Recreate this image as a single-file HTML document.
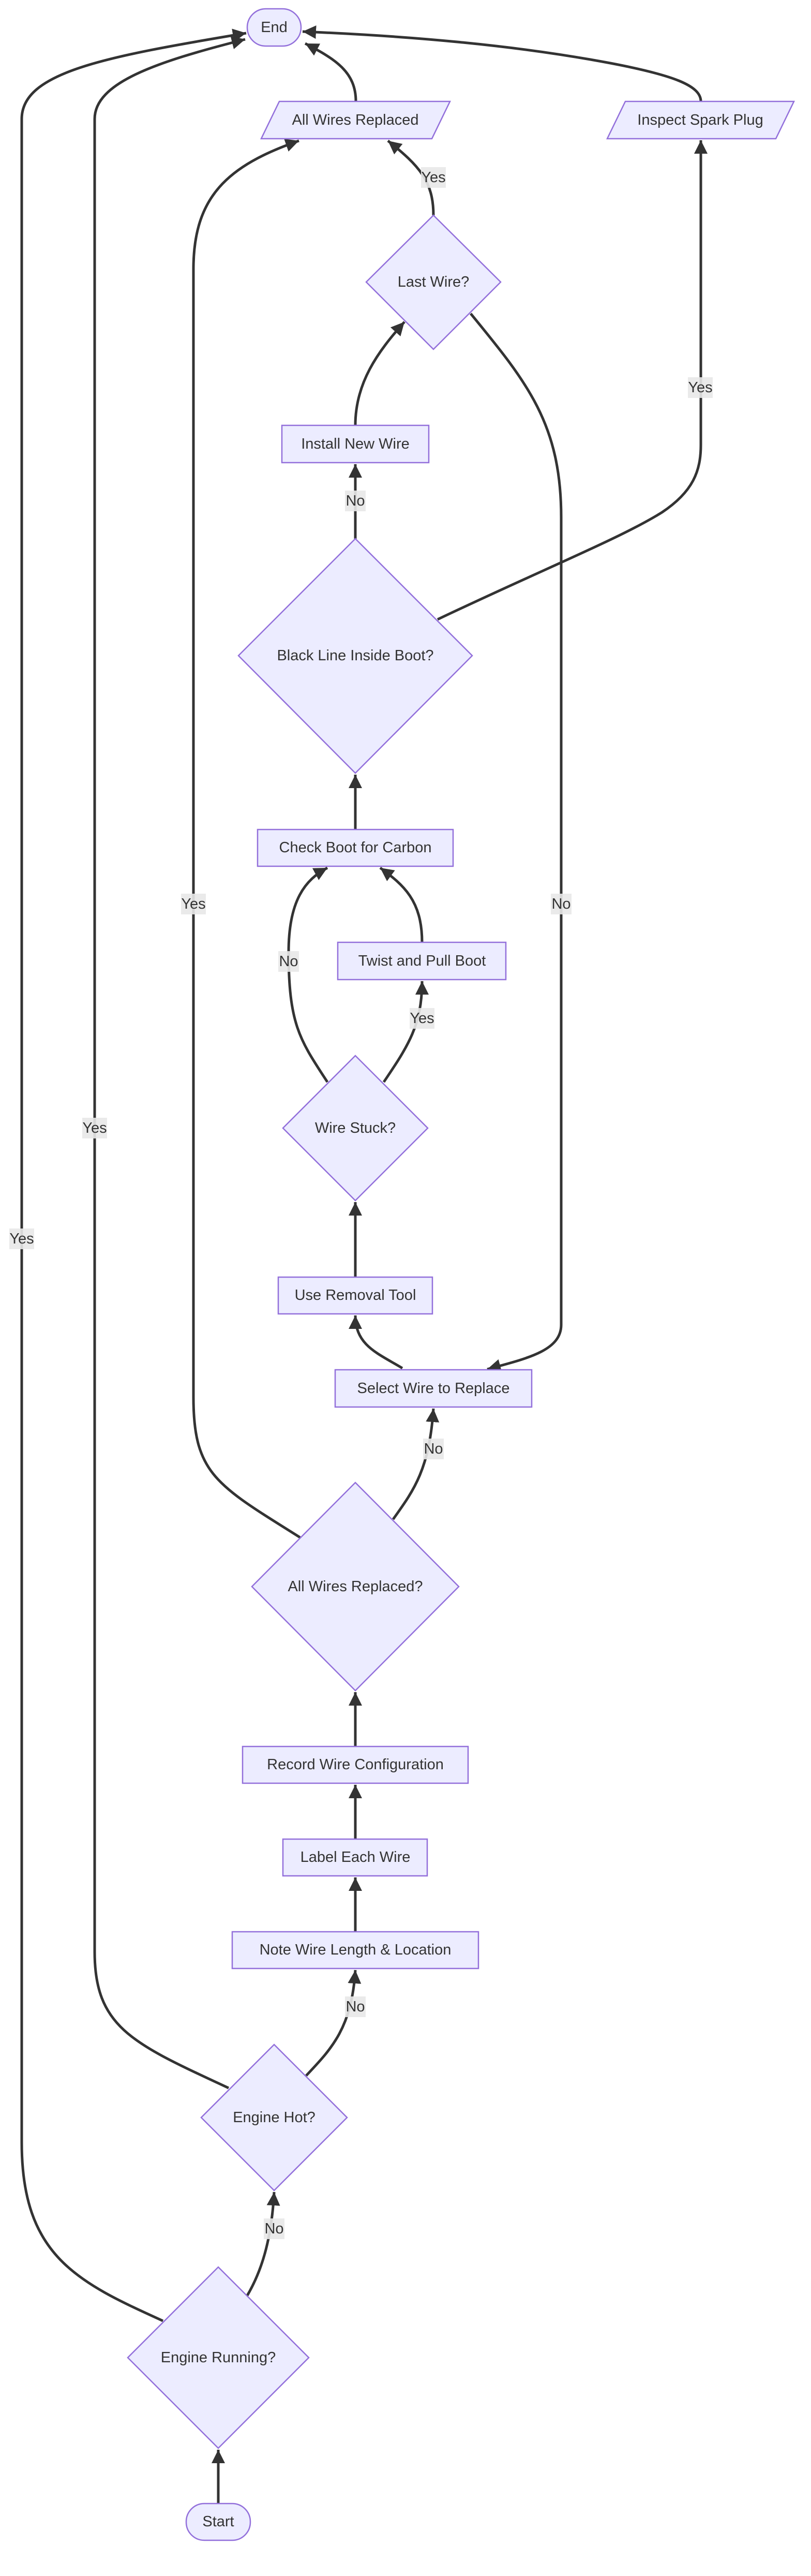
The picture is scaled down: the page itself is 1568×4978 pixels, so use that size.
<!DOCTYPE html>
<html><head><meta charset="utf-8"><style>
html,body{margin:0;padding:0;background:#fff;}
svg{display:block;}
text{font-family:"Liberation Sans",sans-serif;font-size:29px;fill:#333;text-anchor:middle;dominant-baseline:central;}
.n{fill:#ECECFF;stroke:#9370DB;stroke-width:2.5;}
.e{fill:none;stroke:#333;stroke-width:5;}
.lb{fill:#e8e8e8;opacity:0.9;}
</style></head><body>
<svg width="1568" height="4978" viewBox="0 0 1568 4978" xmlns="http://www.w3.org/2000/svg">
<defs>
<marker id="a" markerUnits="userSpaceOnUse" markerWidth="30" markerHeight="30" refX="26" refY="13" orient="auto">
<path d="M0,0 L26,13 L0,26 z" fill="#333"/>
</marker>
</defs>

<path class="e" marker-end="url(#a)" d="M422,4838 L422,4734"/>
<path class="e" marker-end="url(#a)" d="M478,4436 C505,4390 525,4330 530,4236"/>
<path class="e" marker-end="url(#a)" d="M315,4485 C150,4410 42,4360 42,4140 L42,230 C42,140 200,110 476,64"/>
<path class="e" marker-end="url(#a)" d="M442,4035 C260,3950 183,3920 183,3772 L183,230 C183,160 300,120 474,76"/>
<path class="e" marker-end="url(#a)" d="M592,4011 C640,3960 680,3920 687,3807"/>
<path class="e" marker-end="url(#a)" d="M687,3733 L687,3628"/>
<path class="e" marker-end="url(#a)" d="M687,3554 L687,3449"/>
<path class="e" marker-end="url(#a)" d="M687,3375 L687,3270"/>
<path class="e" marker-end="url(#a)" d="M760,2936 C800,2880 830,2840 838,2722"/>
<path class="e" marker-end="url(#a)" d="M580,2971 C420,2870 374,2850 374,2700 L374,520 C374,380 440,320 578,272"/>
<path class="e" marker-end="url(#a)" d="M778,2644 C730,2615 687,2600 687,2542"/>
<path class="e" marker-end="url(#a)" d="M687,2468 L687,2323"/>
<path class="e" marker-end="url(#a)" d="M633,2091 C580,2010 558,1980 558,1840 C558,1740 590,1700 633,1677"/>
<path class="e" marker-end="url(#a)" d="M742,2091 C790,2020 816,1980 816,1896"/>
<path class="e" marker-end="url(#a)" d="M816,1821 C816,1740 780,1710 735,1677"/>
<path class="e" marker-end="url(#a)" d="M687,1603 L687,1497"/>
<path class="e" marker-end="url(#a)" d="M846,1197 C1050,1100 1200,1040 1280,990 C1340,950 1355,910 1355,860 L1355,271"/>
<path class="e" marker-end="url(#a)" d="M687,1041 L687,897"/>
<path class="e" marker-end="url(#a)" d="M687,822 C687,740 730,680 782,622"/>
<path class="e" marker-end="url(#a)" d="M838,416 C838,350 810,320 750,272"/>
<path class="e" marker-end="url(#a)" d="M910,606 C1020,740 1085,820 1085,1000 L1085,2560 C1085,2610 1020,2625 942,2646"/>
<path class="e" marker-end="url(#a)" d="M688,196 C688,140 650,115 590,84"/>
<path class="e" marker-end="url(#a)" d="M1355,196 C1355,165 1300,145 1180,122 C1000,88 800,70 585,61"/>

<rect class="n" x="478" y="17" width="104" height="72" rx="36"/>
<text x="530" y="53">End</text>
<polygon class="n" points="540,196 870,196 835,268 505,268"/>
<text x="687" y="232">All Wires Replaced</text>
<polygon class="n" points="1209,196 1535,196 1500,268 1174,268"/>
<text x="1354" y="232">Inspect Spark Plug</text>
<polygon class="n" points="838,416 968,545 838,675 708,545"/>
<text x="838" y="545">Last Wire?</text>
<rect class="n" x="545" y="822" width="284" height="72"/>
<text x="687" y="858">Install New Wire</text>
<polygon class="n" points="687,1041 913,1267 687,1494 461,1267"/>
<text x="687" y="1267">Black Line Inside Boot?</text>
<rect class="n" x="498" y="1603" width="378" height="71"/>
<text x="687" y="1638">Check Boot for Carbon</text>
<rect class="n" x="653" y="1821" width="325" height="72"/>
<text x="816" y="1857">Twist and Pull Boot</text>
<polygon class="n" points="687,2040 827,2180 687,2320 547,2180"/>
<text x="687" y="2180">Wire Stuck?</text>
<rect class="n" x="538" y="2468" width="298" height="71"/>
<text x="687" y="2503">Use Removal Tool</text>
<rect class="n" x="648" y="2647" width="380" height="72"/>
<text x="838" y="2683">Select Wire to Replace</text>
<polygon class="n" points="687,2865 887,3066 687,3267 487,3066"/>
<text x="687" y="3066">All Wires Replaced?</text>
<rect class="n" x="469" y="3375" width="436" height="71"/>
<text x="687" y="3410">Record Wire Configuration</text>
<rect class="n" x="547" y="3554" width="279" height="71"/>
<text x="687" y="3589">Label Each Wire</text>
<rect class="n" x="449" y="3733" width="476" height="71"/>
<text x="687" y="3768">Note Wire Length &amp; Location</text>
<polygon class="n" points="530,3951 671,4092 530,4233 389,4092"/>
<text x="530" y="4092">Engine Hot?</text>
<polygon class="n" points="422,4381 597,4556 422,4731 247,4556"/>
<text x="422" y="4556">Engine Running?</text>
<rect class="n" x="360" y="4838" width="124" height="71" rx="35"/>
<text x="422" y="4873">Start</text>

<rect class="lb" x="814" y="323" width="48" height="40"/><text x="838" y="343">Yes</text>
<rect class="lb" x="1330" y="729" width="48" height="40"/><text x="1354" y="749">Yes</text>
<rect class="lb" x="667" y="948" width="40" height="40"/><text x="687" y="968">No</text>
<rect class="lb" x="350" y="1727" width="48" height="40"/><text x="374" y="1747">Yes</text>
<rect class="lb" x="1065" y="1727" width="40" height="40"/><text x="1085" y="1747">No</text>
<rect class="lb" x="538" y="1838" width="40" height="40"/><text x="558" y="1858">No</text>
<rect class="lb" x="792" y="1948" width="48" height="40"/><text x="816" y="1968">Yes</text>
<rect class="lb" x="159" y="2160" width="48" height="40"/><text x="183" y="2180">Yes</text>
<rect class="lb" x="18" y="2374" width="48" height="40"/><text x="42" y="2394">Yes</text>
<rect class="lb" x="818" y="2780" width="40" height="40"/><text x="838" y="2800">No</text>
<rect class="lb" x="667" y="3858" width="40" height="40"/><text x="687" y="3878">No</text>
<rect class="lb" x="510" y="4287" width="40" height="40"/><text x="530" y="4307">No</text>
</svg>
</body></html>
